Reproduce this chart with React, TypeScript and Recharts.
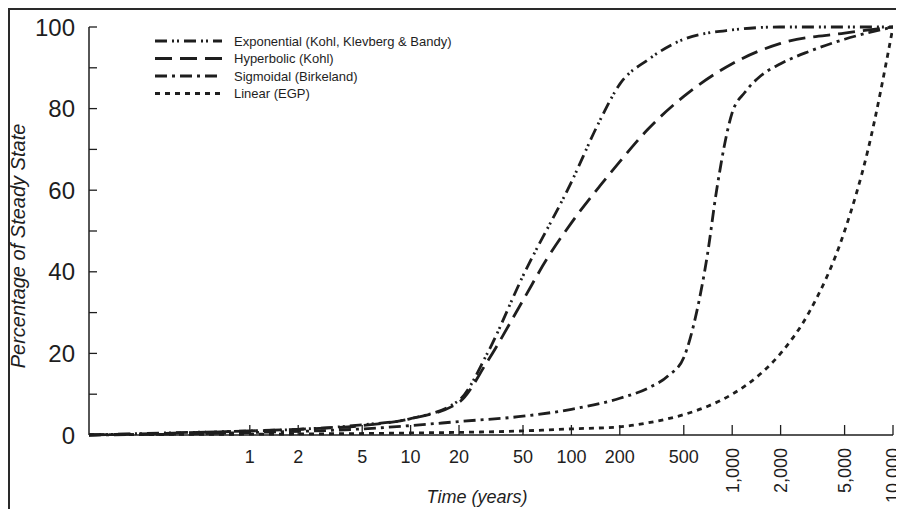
import React from 'react';
import { LineChart, Line, XAxis, YAxis, Legend } from 'recharts';

// time in years (log axis) and % of steady state
const expoX = [0.1, 0.3, 1, 2, 5, 10, 20, 30, 50, 100, 150, 200, 300, 500, 1000, 2000, 5000, 10000];
const expoY = [0, 0.5, 1, 1.4, 2.5, 4, 8.5, 20, 39, 62, 77, 86, 92, 97, 99.3, 100, 100, 100];

const hypX = [0.1, 0.3, 1, 2, 5, 10, 20, 30, 50, 70, 100, 150, 200, 300, 500, 1000, 2000, 5000, 10000];
const hypY = [0, 0.4, 1, 1.4, 2.3, 4, 8, 18, 33, 43, 52, 61, 67, 75, 83, 91, 96, 98.5, 100];

const sigX = [0.1, 1, 5, 10, 20, 50, 100, 200, 300, 400, 500, 600, 700, 800, 1000, 1200, 1500, 2000, 3000, 5000, 10000];
const sigY = [0, 0.6, 1.5, 2.3, 3.3, 4.6, 6.3, 9, 11.5, 14.5, 19, 30, 44, 60, 79, 84, 88, 91, 94, 97, 100];

const linX = [0.1, 1, 10, 50, 100, 200, 300, 500, 700, 1000, 1500, 2000, 3000, 5000, 7000, 10000];
const linY = [0.1, 0.2, 0.5, 1, 1.5, 2, 3, 5, 7, 10, 15, 20, 30, 50, 70, 100];

const xTicks = [1, 2, 5, 10, 20, 50, 100, 200, 500, 1000, 2000, 5000, 10000];
const yTicks = [0, 10, 20, 30, 40, 50, 60, 70, 80, 90, 100];

const toPoints = (xs: number[], ys: number[]) => xs.map((x, i) => ({ x, y: ys[i] }));

const INK = '#1e1e1e';
const FONT = 'Arial, "Liberation Sans", Helvetica, sans-serif';

const SERIES = [
  { name: 'Exponential (Kohl, Klevberg & Bandy)', data: toPoints(expoX, expoY), dash: '12 5 2 3 2 5' },
  { name: 'Hyperbolic (Kohl)', data: toPoints(hypX, hypY), dash: '17 8' },
  { name: 'Sigmoidal (Birkeland)', data: toPoints(sigX, sigY), dash: '12 5 3 5' },
  { name: 'Linear (EGP)', data: toPoints(linX, linY), dash: '5 5' },
];

const YTick = (props: any) => {
  const { x, y, payload } = props;
  return (
    <g>
      <line x1={x} y1={y} x2={x + 8} y2={y} stroke={INK} strokeWidth={1.3} />
      {payload.value % 20 === 0 && (
        <text x={x - 14} y={y} dy="0.36em" textAnchor="end" fontSize={24} fill={INK} fontFamily={FONT}>
          {payload.value}
        </text>
      )}
    </g>
  );
};

const XTick = (props: any) => {
  const { x, y, payload } = props;
  const v = payload.value as number;
  const label = v.toLocaleString('en-US');
  return (
    <g>
      <line x1={x} y1={y} x2={x} y2={y - 10} stroke={INK} strokeWidth={1.3} />
      {v >= 1000 ? (
        <text x={x} y={y + 13} transform={`rotate(-90 ${x} ${y + 13})`} textAnchor="end" dy="0.36em" fontSize={18} fill={INK} fontFamily={FONT}>
          {label}
        </text>
      ) : (
        <text x={x} y={y + 28} textAnchor="middle" fontSize={18} fill={INK} fontFamily={FONT}>
          {label}
        </text>
      )}
    </g>
  );
};

const LegendBox = () => (
  <svg width={340} height={80}>
    {SERIES.map((s, i) => (
      <g key={s.name} transform={`translate(0 ${9 + i * 17.5})`}>
        <line x1={0} x2={67} y1={0} y2={0} stroke={INK} strokeWidth={3} strokeDasharray={s.dash} />
        <text x={79} y={0} dy="0.36em" fontSize={13} fill={INK} fontFamily={FONT}>
          {s.name}
        </text>
      </g>
    ))}
  </svg>
);

export default function App() {
  return (
    <div style={{ position: 'relative', width: 896, height: 501, overflow: 'hidden' }}>
      <div
        style={{
          position: 'absolute',
          left: 0,
          top: 0,
          width: 1000,
          height: 1000,
          borderTop: '2px solid #2a2a2a',
          borderLeft: '2px solid #2a2a2a',
        }}
      />
      <LineChart width={896} height={501} margin={{ top: 19, right: 11, left: 0, bottom: 0 }}>
        <XAxis
          dataKey="x"
          type="number"
          scale="log"
          domain={[0.1, 10000]}
          ticks={xTicks}
          interval={0}
          allowDataOverflow
          height={74}
          tickSize={0}
          tickMargin={0}
          tickLine={false}
          tick={<XTick />}
          axisLine={{ stroke: INK, strokeWidth: 1.5 }}
          label={{
            content: () => (
              <text x={469} y={495} textAnchor="middle" fontSize={18} fontStyle="italic" fill={INK} fontFamily={FONT}>
                Time (years)
              </text>
            ),
          }}
        />
        <YAxis
          type="number"
          domain={[0, 100]}
          ticks={yTicks}
          interval={0}
          width={81}
          tickSize={0}
          tickMargin={0}
          tickLine={false}
          tick={<YTick />}
          axisLine={{ stroke: INK, strokeWidth: 1.5 }}
          label={{
            content: () => (
              <text
                x={10}
                y={238}
                transform="rotate(-90 10 238)"
                textAnchor="middle"
                dy="0.36em"
                fontSize={20}
                fontStyle="italic"
                fill={INK}
                fontFamily={FONT}
              >
                Percentage of  Steady State
              </text>
            ),
          }}
        />
        <Legend
          layout="vertical"
          align="center"
          verticalAlign="middle"
          content={() => <LegendBox />}
          wrapperStyle={{ position: 'absolute', left: 147, top: 24, width: 340, height: 80 }}
        />
        {SERIES.map((s) => (
          <Line
            key={s.name}
            data={s.data}
            dataKey="y"
            name={s.name}
            type="monotone"
            stroke={INK}
            strokeWidth={2.8}
            strokeDasharray={s.dash}
            dot={false}
            activeDot={false}
            isAnimationActive={false}
          />
        ))}
      </LineChart>
    </div>
  );
}
